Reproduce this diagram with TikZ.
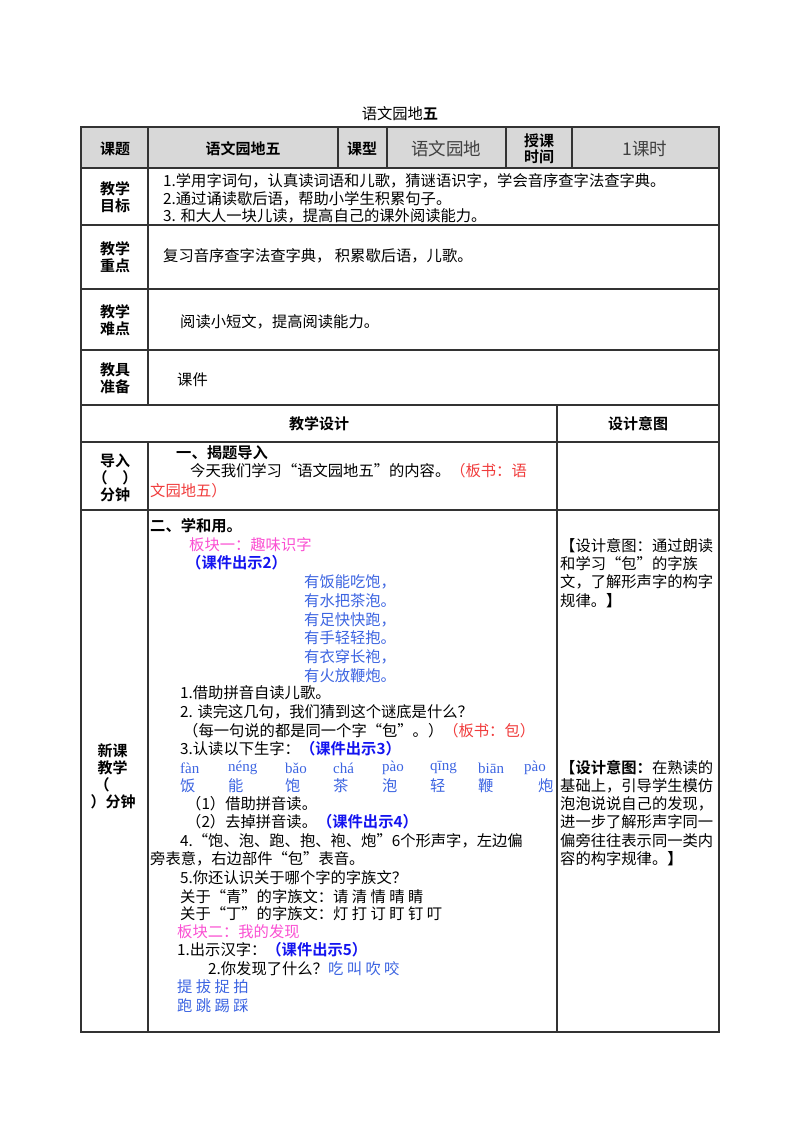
\documentclass[tikz,border=0pt]{standalone}
\usepackage{fontspec}
\setmainfont{Liberation Serif}
\newfontfamily\cjk{Noto Sans CJK SC}
\newfontfamily\cjkb{Noto Sans CJK SC Bold}
\definecolor{pk}{RGB}{250,80,210}
\definecolor{bb}{RGB}{20,20,240}
\definecolor{lb}{RGB}{60,100,225}
\definecolor{rd}{RGB}{240,60,60}
\definecolor{hd}{RGB}{216,216,216}
\begin{document}
\begin{tikzpicture}[x=1pt,y=-1pt,
  t/.style={anchor=west,inner sep=0pt,font=\fontsize{15.3}{16}\selectfont\cjk},
  b/.style={inner sep=0pt,font=\fontsize{15}{17}\selectfont\cjkb,align=center},
  grid/.style={line width=1.2pt,draw=black!80}]
\useasboundingbox (0,0) rectangle (800,1132);
\fill[hd] (81,127) rectangle (719,168);
\draw[grid] (81,127) rectangle (719,1032);
\foreach \y in {168,225,289,350,405,442,510} \draw[grid] (81,\y) -- (719,\y);
\draw[grid] (148,127) -- (148,405);
\draw[grid] (148,442) -- (148,1032);
\foreach \x in {338,387,506,572} \draw[grid] (\x,127) -- (\x,168);
\draw[grid] (557,405) -- (557,1032);
\node[t,anchor=center] (title) at (400,114) {语文园地{\cjkb 五}};
\node[b] (h1) at (115,149) {课题};
\node[b] (h2) at (243,149) {语文园地五};
\node[b] (h3) at (362,149) {课型};
\node[t,anchor=center,font=\fontsize{17.5}{18}\selectfont\cjk,text=black!75] (h4) at (446,149) {语文园地};
\node[b,font=\fontsize{15}{16}\selectfont\cjkb] (h5) at (539,149) {授课\\时间};
\node[t,anchor=center,font=\fontsize{17.5}{18}\selectfont\cjk,text=black!75] (h6) at (645,149) {1课时};
\node[b] (l1) at (115,197) {教学\\目标};
\node[b] (l2) at (115,257) {教学\\重点};
\node[b] (l3) at (115,320) {教学\\难点};
\node[b] (l4) at (115,378) {教具\\准备};
\node[t] (g1) at (163,181) {1.学用字词句，认真读词语和儿歌，猜谜语识字，学会音序查字法查字典。};
\node[t] (g2) at (163,199) {2.通过诵读歇后语，帮助小学生积累句子。};
\node[t] (g3) at (163,216) {3. 和大人一块儿读，提高自己的课外阅读能力。};
\node[t] (k) at (163,256) {复习音序查字法查字典， 积累歇后语，儿歌。};
\node[t] (n) at (180,322) {阅读小短文，提高阅读能力。};
\node[t] (j) at (177,380) {课件};
\node[b] (d1) at (319,424) {教学设计};
\node[b] (d2) at (638,424) {设计意图};
\node[b] (i1) at (115,478) {导入\\（\quad ）\\分钟};
\node[t,font=\fontsize{15.3}{16}\selectfont\cjkb] (i2) at (176,453) {一、揭题导入};
\node[t] (i3) at (190,471) {今天我们学习“语文园地五”的内容。\textcolor{rd}{（板书：语}};
\node[t,text=rd] (i4) at (150,491) {文园地五）};
\node[b,align=left] (x1) at (115,776) {\hspace*{3pt}新课\\\hspace*{3pt}教学\\（\\\hspace*{-4pt}）分钟};
\node[t,font=\fontsize{15.3}{16}\selectfont\cjkb] (c1) at (150,526) {二、学和用。};
\node[t,text=pk] (c2) at (189,545) {板块一：趣味识字};
\node[t,text=bb,font=\fontsize{15.3}{16}\selectfont\cjkb] (c3) at (186,563) {（课件出示2）};
\foreach \s [count=\i] in {有饭能吃饱，,有水把茶泡。,有足快快跑，,有手轻轻抱。,有衣穿长袍，,有火放鞭炮。}
  \node[t,text=lb] (p\i) at (304,{582+18.7*(\i-1)}) {\s};
\node[t] (c4) at (180,693) {1.借助拼音自读儿歌。};
\node[t] (c5) at (180,712) {2. 读完这几句，我们猜到这个谜底是什么？};
\node[t] (c6) at (183,731) {（每一句说的都是同一个字“包”。）\textcolor{rd}{（板书：包）}};
\node[t] (c7) at (180,749) {3.认读以下生字：\textcolor{bb}{\cjkb（课件出示3）}};
\foreach \py/\ch/\x [count=\i] in {fàn/饭/180,néng/能/228,bǎo/饱/285,chá/茶/333,pào/泡/382,qīng/轻/430,biān/鞭/478,pào/炮/524}{
  \node[t,text=lb,font=\fontsize{15}{15}\selectfont\rmfamily] (py\i) at (\x,768) {\py};
  \node[t,text=lb] (ch\i) at ({\x+(\i==8?14:0)},786) {\ch};}
\node[t] (c8) at (186,804) {（1）借助拼音读。};
\node[t] (c9) at (186,822) {（2）去掉拼音读。\textcolor{bb}{\cjkb（课件出示4）}};
\node[t] (c10) at (180,841) {4.“饱、泡、跑、抱、袍、炮”6个形声字，左边偏};
\node[t] (c11) at (150,859) {旁表意，右边部件“包”表音。};
\node[t] (c12) at (180,878) {5.你还认识关于哪个字的字族文？};
\node[t] (c13) at (180,897) {关于“青”的字族文：请 清 情 晴 睛};
\node[t] (c14) at (180,914) {关于“丁”的字族文：灯 打 订 盯 钉 叮};
\node[t,text=pk] (c15) at (177,932) {板块二：我的发现};
\node[t] (c16) at (177,950) {1.出示汉字：\textcolor{bb}{\cjkb（课件出示5）}};
\node[t] (c17) at (208,969) {2.你发现了什么？\textcolor{lb}{吃 叫 吹 咬}};
\node[t,text=lb] (c18) at (177,987) {提 拔 捉 拍};
\node[t,text=lb] (c19) at (177,1006) {跑 跳 踢 踩};
\node[t] (r1) at (560,546) {【设计意图：通过朗读};
\node[t] (r2) at (560,564) {和学习“包”的字族};
\node[t] (r3) at (560,582) {文，了解形声字的构字};
\node[t] (r4) at (560,601) {规律。{\cjkb 】}};
\node[t] (r5) at (560,768) {{\cjkb【设计意图：}在熟读的};
\node[t] (r6) at (560,786) {基础上，引导学生模仿};
\node[t] (r7) at (560,804) {泡泡说说自己的发现，};
\node[t] (r8) at (560,822) {进一步了解形声字同一};
\node[t] (r9) at (560,841) {偏旁往往表示同一类内};
\node[t] (r10) at (560,859) {容的构字规律。{\cjkb 】}};
\end{tikzpicture}
\end{document}
